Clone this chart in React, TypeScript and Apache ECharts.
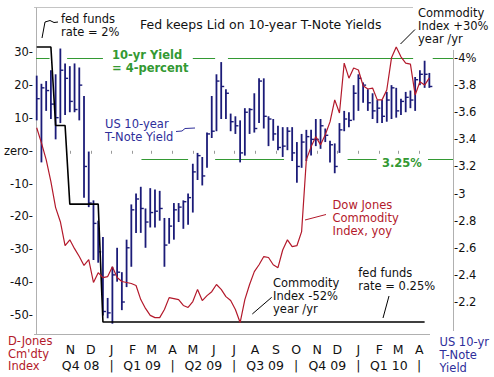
import React, { useEffect, useRef } from "react";
import * as echarts from "echarts";

const FONT = '"DejaVu Sans", Verdana, sans-serif';

// weekly observations (Fridays) start here
const FIRST_WEEK = "2008-09-12";
const AXIS_FROM = "2008-09-08";
const AXIS_TO = "2010-05-21";

// US 10-year T-Note yield, weekly high / low / close (%)
const yieldHigh = [
  3.87, 3.81, 3.83, 3.91, 3.88, 4.07, 3.96, 3.94, 3.96, 3.93,
  3.72, 3.31, 2.95, 2.8, 2.68, 2.23, 2.46, 2.6, 2.42, 2.66,
  2.92, 3.0, 3.05, 2.89, 3.04, 3.03, 3.02, 2.82, 2.82, 2.93,
  2.93, 2.95, 3.0, 3.22, 3.3, 3.27, 3.45, 3.72, 3.88, 3.97,
  3.77, 3.59, 3.57, 3.54, 3.63, 3.63, 3.74, 3.85, 3.85, 3.57,
  3.55, 3.5, 3.49, 3.49, 3.49, 3.38, 3.44, 3.47, 3.47, 3.55,
  3.55, 3.48, 3.39, 3.37, 3.52, 3.61, 3.6, 3.8, 3.88, 3.82,
  3.77, 3.74, 3.69, 3.69, 3.75, 3.8, 3.78, 3.7, 3.75, 3.76,
  3.86, 3.91, 3.98, 3.89,
];
const yieldLow = [
  3.54, 3.23, 3.61, 3.55, 3.4, 3.52, 3.58, 3.6, 3.6, 3.54,
  2.97, 2.9, 2.51, 2.49, 2.1, 2.08, 2.04, 2.35, 2.14, 2.31,
  2.46, 2.71, 2.71, 2.6, 2.75, 2.75, 2.8, 2.46, 2.63, 2.66,
  2.79, 2.74, 2.77, 2.86, 3.1, 3.06, 3.19, 3.41, 3.46, 3.55,
  3.55, 3.46, 3.44, 3.23, 3.28, 3.44, 3.45, 3.52, 3.48, 3.35,
  3.39, 3.32, 3.27, 3.32, 3.24, 3.08, 3.19, 3.24, 3.28, 3.35,
  3.33, 3.38, 3.23, 3.15, 3.3, 3.46, 3.49, 3.54, 3.61, 3.67,
  3.61, 3.55, 3.52, 3.52, 3.53, 3.55, 3.56, 3.58, 3.6, 3.63,
  3.61, 3.8, 3.78, 3.78,
];
const yieldClose = [
  3.7, 3.78, 3.76, 3.66, 3.56, 3.91, 3.85, 3.68, 3.62, 3.8,
  3.2, 2.93, 2.78, 2.57, 2.13, 2.12, 2.4, 2.42, 2.2, 2.6,
  2.88, 2.96, 2.89, 2.79, 2.86, 2.87, 2.89, 2.62, 2.76, 2.88,
  2.9, 2.94, 2.97, 3.16, 3.28, 3.13, 3.44, 3.46, 3.83, 3.79,
  3.74, 3.53, 3.5, 3.3, 3.6, 3.62, 3.48, 3.83, 3.57, 3.55,
  3.44, 3.34, 3.35, 3.46, 3.3, 3.2, 3.38, 3.42, 3.4, 3.4,
  3.5, 3.43, 3.36, 3.2, 3.47, 3.55, 3.54, 3.74, 3.85, 3.8,
  3.67, 3.61, 3.63, 3.57, 3.69, 3.78, 3.61, 3.68, 3.71, 3.69,
  3.84, 3.88, 3.88, 3.79,
];

// Dow Jones Commodity Index, year-over-year change (%), weekly
const commodityYoY = [
  7, 2.4, -2.7, -9.4, -17.3, -21.6, -28.9, -27.1, -29.8, -32.2,
  -34.9, -33.1, -40.1, -37.1, -38.6, -38.3, -35.3, -38.6, -39.8, -40.1,
  -40.4, -41, -45.3, -48, -50.1, -50.8, -50.8, -48.3, -44.7, -45,
  -45.3, -47.1, -47.7, -45.9, -42.2, -45.6, -44.1, -42.9, -40.7, -42.2,
  -44.4, -45.6, -48.3, -52.3, -45.3, -40.7, -36.8, -34.7, -32.2, -32.5,
  -34.7, -35.6, -30.2, -27.1, -29.2, -28.9, -24.6, -2.7, 1.2, 4.3,
  1.8, 4.9, 8.8, 15.5, 11.5, 26.7, 22.1, 25.2, 24.6, 19.8,
  18.8, 19.1, 15.5, 15.5, 18.5, 28.3, 31.6, 28.6, 26.7, 26.4,
  17, 21, 20, 22.2,
];

// fed funds target rate (%), at the weeks where it changes
const fedFundsWeek = [0, 3, 4, 6, 7, 13, 14, 82];
const fedFundsRate = [2, 2, 1.5, 1.5, 1, 1, 0.25, 0.25];

const monthStarts = [
  "2008-11-01", "2008-12-01", "2009-01-01", "2009-02-01", "2009-03-01", "2009-04-01",
  "2009-05-01", "2009-06-01", "2009-07-01", "2009-08-01", "2009-09-01", "2009-10-01",
  "2009-11-01", "2009-12-01", "2010-01-01", "2010-02-01", "2010-03-01", "2010-04-01",
];
const monthLetters = ["N", "D", "J", "F", "M", "A", "M", "J", "J", "A", "S", "O", "N", "D", "J", "F", "M", "A"];
const quarterStarts = ["2008-10-01", "2009-01-01", "2009-04-01", "2009-07-01", "2009-10-01", "2010-01-01", "2010-04-01"];
const quarterLabels = ["Q4 08", "Q1 09", "Q2 09", "Q3 09", "Q4 09", "Q1 10"];

const leftTicks = [-50, -40, -30, -20, -10, 0, 10, 20, 30];
const rightTicks = [2.2, 2.4, 2.6, 2.8, 3, 3.2, 3.4, 3.6, 3.8, 4];

const FOUR_PCT = 4;
const THREE_QTR_PCT = 3.25;
const fourPctSegments: [string, string][] = [
  ["2008-09-11", "2008-10-01"],
  ["2008-10-27", "2008-12-19"],
  ["2009-05-01", "2009-06-03"],
  ["2009-06-22", "2010-03-23"],
  ["2010-04-21", "2010-05-21"],
];
const threeQtrSegments: [string, string][] = [
  ["2009-02-14", "2009-04-24"],
  ["2009-06-03", "2009-09-13"],
  ["2009-12-16", "2010-01-28"],
  ["2010-04-14", "2010-05-21"],
];

const NAVY_BAR = "#1b1b78";
const NAVY_TEXT = "#2e2e9a";
const RED = "#b3192b";
const GREEN = "#339933";
const GREY = "#b0b0b0";
const INK = "#111";

const DAY = 86400000;
const dayOf = (d: string) =>
  (Date.parse(d + "T00:00:00Z") - Date.parse(FIRST_WEEK + "T00:00:00Z")) / DAY;
const weekDay = (k: number) => 7 * k;

const pick = (vals: number[], labels: string[]) => (v: number) => {
  const i = vals.findIndex((x) => Math.abs(x - v) < 0.01);
  return i >= 0 ? labels[i] : "";
};

function txt(x: number, yFirstLine: number, text: string, fill: string, opts: any = {}) {
  const lh = opts.lineHeight ?? 13;
  return {
    type: "text",
    x,
    y: yFirstLine - lh / 2,
    silent: true,
    style: {
      text,
      fill,
      fontSize: opts.size ?? 11.5,
      fontWeight: opts.bold ? "bold" : "normal",
      fontFamily: FONT,
      lineHeight: lh,
      align: "left",
      verticalAlign: "top",
    },
  };
}

function seg(points: number[][], stroke: string, lineWidth = 1) {
  return {
    type: "polyline",
    silent: true,
    shape: { points },
    style: { stroke, lineWidth, fill: "none" },
  };
}

export default function App() {
  const ref = useRef<HTMLDivElement>(null);

  useEffect(() => {
    if (!ref.current) return;
    const chart = echarts.init(ref.current, undefined, { renderer: "svg" });

    const monthDays = monthStarts.map(dayOf);
    const quarterMids = quarterLabels.map(
      (_, i) => (dayOf(quarterStarts[i]) + dayOf(quarterStarts[i + 1])) / 2
    );
    const separatorDays = quarterStarts.slice(1).map(dayOf);
    const xMin = dayOf(AXIS_FROM);
    const xMax = dayOf(AXIS_TO);

    const baseX = {
      type: "value",
      min: xMin,
      max: xMax,
      position: "bottom",
      axisLine: { show: false },
      splitLine: { show: false },
    };
    const labelFont = { color: INK, fontSize: 12.5, fontFamily: FONT };

    const bars = yieldHigh.map((h, i) => [weekDay(i), h, yieldLow[i], yieldClose[i]]);

    const option = {
      animation: false,
      backgroundColor: "#ffffff",
      grid: { left: 34, right: 41, top: 8, bottom: 43 },
      xAxis: [
        {
          ...baseX,
          axisTick: { show: true, customValues: monthDays, length: 3, lineStyle: { color: "#999" } },
          axisLabel: { ...labelFont, customValues: monthDays, formatter: pick(monthDays, monthLetters), margin: 8.5 },
        },
        {
          ...baseX,
          offset: 16,
          axisTick: { show: false },
          axisLabel: { ...labelFont, customValues: quarterMids, formatter: pick(quarterMids, quarterLabels), margin: 8.5 },
        },
        {
          ...baseX,
          offset: 16,
          axisTick: { show: false },
          axisLabel: { ...labelFont, customValues: separatorDays, formatter: () => "|", margin: 8.5 },
        },
      ],
      yAxis: [
        {
          type: "value",
          min: -55.78,
          max: 43.47,
          position: "left",
          axisLine: { show: true, lineStyle: { color: GREY, width: 1 } },
          axisTick: { show: false },
          splitLine: { show: false },
          axisLabel: {
            customValues: leftTicks,
            formatter: (v: number) => (v === 0 ? "zero" : String(v)) + "-",
            margin: 1,
            color: INK,
            fontSize: 11.5,
            fontFamily: FONT,
          },
        },
        {
          type: "value",
          min: 1.964,
          max: 4.369,
          position: "right",
          axisLine: { show: false },
          axisTick: { show: false },
          splitLine: { show: false },
          axisLabel: {
            customValues: rightTicks,
            formatter: (v: number) => {
              const r = Number(v.toFixed(1));
              return "-" + (r === 4 ? "4%" : String(r));
            },
            margin: 1,
            color: INK,
            fontSize: 11.5,
            fontFamily: FONT,
          },
        },
        { type: "value", min: 0.1736, max: 2.248, show: false },
      ],
      series: [
        {
          type: "lines",
          coordinateSystem: "cartesian2d",
          xAxisIndex: 0,
          yAxisIndex: 1,
          silent: true,
          lineStyle: { color: GREEN, width: 1.2, opacity: 1 },
          data: fourPctSegments
            .map(([a, b]) => ({ coords: [[dayOf(a), FOUR_PCT], [dayOf(b), FOUR_PCT]] }))
            .concat(
              threeQtrSegments.map(([a, b]) => ({
                coords: [[dayOf(a), THREE_QTR_PCT], [dayOf(b), THREE_QTR_PCT]],
              }))
            ),
        },
        {
          type: "line",
          name: "fed funds",
          xAxisIndex: 0,
          yAxisIndex: 2,
          showSymbol: false,
          symbol: "none",
          lineStyle: { color: "#000", width: 1.6 },
          data: fedFundsWeek.map((k, i) => [weekDay(k), fedFundsRate[i]]),
        },
        {
          type: "custom",
          name: "US 10-year T-Note Yield",
          xAxisIndex: 0,
          yAxisIndex: 1,
          data: bars,
          encode: { x: 0, y: [1, 2, 3] },
          renderItem: (_params: any, api: any) => {
            const x = api.value(0);
            const pHi = api.coord([x, api.value(1)]);
            const pLo = api.coord([x, api.value(2)]);
            const pCl = api.coord([x, api.value(3)]);
            return {
              type: "group",
              children: [
                {
                  type: "line",
                  shape: { x1: pHi[0], y1: pHi[1], x2: pLo[0], y2: pLo[1] },
                  style: { stroke: NAVY_BAR, lineWidth: 1.8 },
                },
                {
                  type: "line",
                  shape: { x1: pCl[0], y1: pCl[1], x2: pCl[0] + 3, y2: pCl[1] },
                  style: { stroke: NAVY_BAR, lineWidth: 1.4 },
                },
              ],
            };
          },
        },
        {
          type: "line",
          name: "Dow Jones Commodity Index, yoy",
          xAxisIndex: 0,
          yAxisIndex: 0,
          showSymbol: false,
          symbol: "none",
          lineStyle: { color: RED, width: 1.2 },
          data: commodityYoY.map((v, i) => [weekDay(i), v]),
        },
      ],
      graphic: [
        // frame
        { type: "line", silent: true, shape: { x1: 34, y1: 7.5, x2: 413, y2: 7.5 }, style: { stroke: "#c4c4c4", lineWidth: 1 } },
        { type: "line", silent: true, shape: { x1: 453.5, y1: 50, x2: 453.5, y2: 331 }, style: { stroke: GREY, lineWidth: 1 } },
        { type: "line", silent: true, shape: { x1: 34, y1: 334.5, x2: 430, y2: 334.5 }, style: { stroke: GREY, lineWidth: 1 } },
        // title
        {
          type: "text",
          x: 140,
          y: 24,
          silent: true,
          style: {
            text: "Fed keeps Lid on 10-year T-Note Yields",
            fill: INK,
            fontSize: 12.5,
            fontFamily: FONT,
            align: "left",
            verticalAlign: "middle",
          },
        },
        txt(61, 18.7, "fed funds\nrate = 2%", INK),
        seg([[42, 38], [45, 22], [50, 20.5], [54, 22.5], [58, 22]], "#000"),
        txt(112, 54.5, "10-yr Yield\n= 4-percent", GREEN, { bold: true, lineHeight: 13.5 }),
        txt(105, 124, "US 10-year\nT-Note Yield", NAVY_TEXT),
        seg([[176, 131.5], [182, 131], [185, 128.5], [195, 128]], NAVY_TEXT),
        txt(418, 13.3, "Commodity\nIndex +30%\nyear /yr", INK, { lineHeight: 12.7 }),
        seg([[400.5, 44], [415, 29.5]], "#000"),
        txt(382, 163, "3.25%", GREEN, { bold: true }),
        txt(332.5, 205.3, "Dow Jones\nCommodity\nIndex, yoy", RED),
        seg([[305, 220], [326, 214.5]], RED),
        txt(273, 282.7, "Commodity\nIndex -52%\nyear /yr", INK),
        seg([[252.3, 314], [271.7, 297.3]], "#000"),
        txt(358.3, 272.7, "fed funds\nrate = 0.25%", INK),
        seg([[383, 318], [389, 296]], "#000"),
        txt(8, 341, "D-Jones\nCm'dty\nIndex", RED, { lineHeight: 12.7 }),
        txt(439.5, 342, "US 10-yr\nT-Note\nYield", NAVY_TEXT, { lineHeight: 12.8 }),
      ],
    };

    chart.setOption(option as any);
    return () => chart.dispose();
  }, []);

  return (
    <div
      ref={ref}
      style={{ position: "absolute", left: 0, top: 0, width: 494, height: 377, background: "#fff" }}
    />
  );
}
